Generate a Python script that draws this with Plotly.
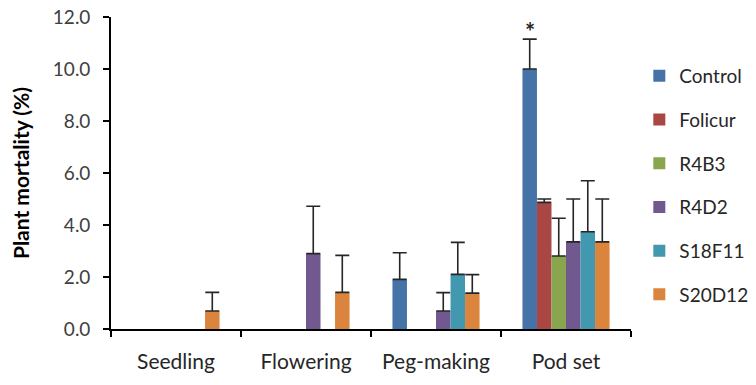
import plotly.graph_objects as go

stages = ["Seedling", "Flowering", "Peg-making", "Pod set"]
treatments = ["Control", "Folicur", "R4B3", "R4D2", "S18F11", "S20D12"]
colors = ["#4573A7", "#AA4643", "#89A54E", "#71588F", "#4198AF", "#DB843D"]

# mean mortality (%) per stage; None where no plants died
mortality = {
    "Control": [None, None, 1.91, 10.0],
    "Folicur": [None, None, None, 4.87],
    "R4B3":    [None, None, None, 2.81],
    "R4D2":    [None, 2.90, 0.69, 3.35],
    "S18F11":  [None, None, 2.10, 3.74],
    "S20D12":  [0.69, 1.41, 1.38, 3.35],
}
# upper error (SE)
errors = {
    "Control": [None, None, 1.02, 1.15],
    "Folicur": [None, None, None, 0.13],
    "R4B3":    [None, None, None, 1.45],
    "R4D2":    [None, 1.82, 0.71, 1.65],
    "S18F11":  [None, None, 1.23, 1.96],
    "S20D12":  [0.72, 1.42, 0.71, 1.65],
}
y_ticks = [0, 2, 4, 6, 8, 10, 12]

font = "Lato, 'Open Sans', sans-serif"

fig = go.Figure()
for name, col in zip(treatments, colors):
    fig.add_trace(go.Bar(
        name=name, x=stages, y=mortality[name], marker_color=col,
        marker_line_width=0, legendgroup=name,
        error_y=dict(type="data", symmetric=False, array=errors[name],
                     arrayminus=[0] * len(stages), color="#262626",
                     thickness=1.6, width=7),
    ))

# significance marker above the Control bar at pod set
ctrl = mortality["Control"][3] + errors["Control"][3]
fig.add_annotation(x="Pod set", y=ctrl, text="<b>*</b>", showarrow=False,
                   yanchor="bottom", xshift=-36.5, yshift=-9,
                   font=dict(size=24, color="#262626", family=font))

fig.update_layout(
    width=756, height=385,
    margin=dict(l=111, r=125, t=17, b=56, autoexpand=False),
    paper_bgcolor="white", plot_bgcolor="white",
    barmode="group", bargap=0.33, bargroupgap=0,
    font=dict(family=font, color="#404040"),
    showlegend=True,
    legend=dict(x=1.016, xanchor="left", y=0.46, yanchor="middle",
                yref="paper", font=dict(size=19, color="#262626"),
                tracegroupgap=16, itemwidth=30,
                bgcolor="rgba(0,0,0,0)"),
    xaxis=dict(showline=True, linecolor="black", linewidth=1.6,
               ticks="outside", tickson="boundaries", ticklen=6,
               tickwidth=1.6, tickcolor="black", automargin=False,
               tickfont=dict(size=21, color="#262626"),
               ticklabelstandoff=13, showgrid=False),
    yaxis=dict(range=[0, 12], tickvals=y_ticks,
               ticktext=[f"{v:.1f}" for v in y_ticks],
               showline=True, linecolor="black", linewidth=1.6,
               ticks="outside", ticklen=6, tickwidth=1.6,
               tickcolor="black", showgrid=False, zeroline=False,
               automargin=False,
               tickfont=dict(size=19, color="#404040"),
               ticklabelstandoff=9,
               title=dict(text="<b>Plant mortality (%)</b>",
                          font=dict(size=21, color="black"), standoff=18)),
)

fig.write_html("out.html")
